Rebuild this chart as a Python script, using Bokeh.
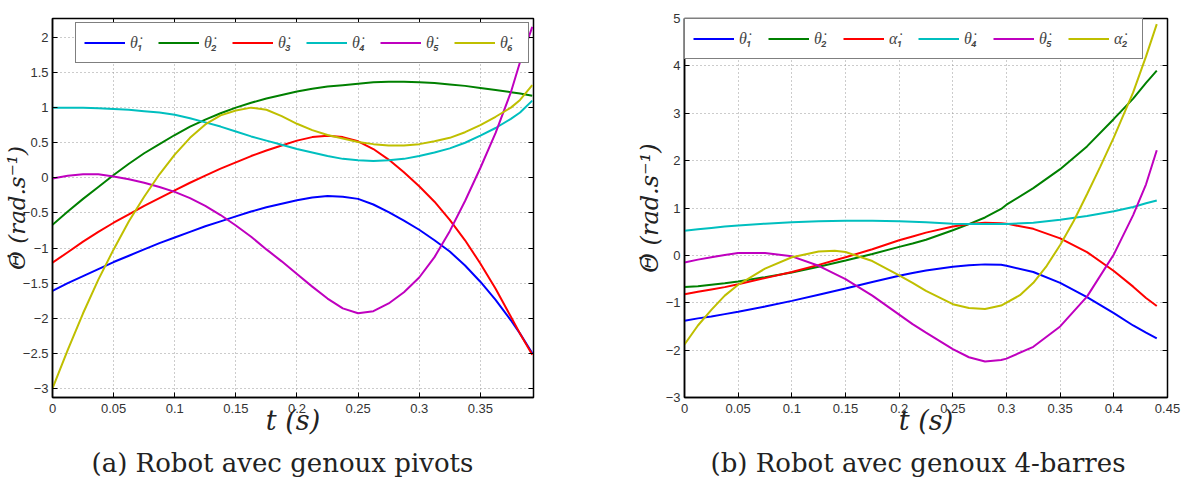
from bokeh.plotting import figure
from bokeh.models import (Range1d, FixedTicker, CustomJSTickFormatter, Legend,
                          LegendItem, LinearAxis, Title)
from bokeh.layouts import row
from bokeh.embed import file_html
from bokeh.resources import INLINE

# ---------------- data : panel (a) ----------------
ta = [0, 0.0125, 0.025, 0.0375, 0.05, 0.0625, 0.075, 0.0875, 0.1, 0.1125, 0.125,
      0.1375, 0.15, 0.1625, 0.175, 0.1875, 0.2, 0.2125, 0.225, 0.2375, 0.25, 0.2625,
      0.275, 0.2875, 0.3, 0.3125, 0.325, 0.3375, 0.35, 0.3625, 0.375, 0.3825, 0.3925]
a_theta1 = [-1.61, -1.50, -1.40, -1.30, -1.20, -1.11, -1.02, -0.93, -0.85, -0.77, -0.69,
            -0.62, -0.55, -0.48, -0.42, -0.37, -0.32, -0.28, -0.26, -0.27, -0.30, -0.38,
            -0.49, -0.61, -0.74, -0.89, -1.05, -1.25, -1.48, -1.74, -2.03, -2.22, -2.50]
a_theta2 = [-0.67, -0.48, -0.30, -0.13, 0.04, 0.20, 0.35, 0.48, 0.61, 0.73, 0.83,
            0.92, 1.00, 1.07, 1.13, 1.18, 1.23, 1.27, 1.30, 1.32, 1.34, 1.36,
            1.37, 1.37, 1.36, 1.35, 1.33, 1.31, 1.28, 1.25, 1.22, 1.20, 1.17]
a_theta3 = [-1.21, -1.06, -0.91, -0.77, -0.64, -0.52, -0.40, -0.29, -0.18, -0.07, 0.03,
            0.13, 0.22, 0.31, 0.39, 0.46, 0.53, 0.58, 0.60, 0.58, 0.52, 0.41,
            0.26, 0.08, -0.12, -0.34, -0.60, -0.89, -1.22, -1.58, -1.98, -2.22, -2.52]
a_theta4 = [1.00, 1.00, 1.00, 0.99, 0.98, 0.97, 0.95, 0.93, 0.90, 0.85, 0.79,
            0.73, 0.66, 0.59, 0.53, 0.47, 0.41, 0.36, 0.31, 0.27, 0.25, 0.24,
            0.25, 0.27, 0.31, 0.36, 0.42, 0.50, 0.60, 0.71, 0.84, 0.93, 1.10]
a_theta5 = [-0.01, 0.03, 0.05, 0.05, 0.02, -0.02, -0.07, -0.13, -0.20, -0.29, -0.40,
            -0.53, -0.68, -0.84, -1.02, -1.19, -1.37, -1.55, -1.72, -1.86, -1.93, -1.90,
            -1.79, -1.63, -1.42, -1.13, -0.76, -0.33, 0.14, 0.64, 1.22, 1.65, 2.15]
a_theta6 = [-3.00, -2.45, -1.93, -1.45, -1.02, -0.62, -0.27, 0.05, 0.33, 0.57, 0.76,
            0.89, 0.96, 1.00, 0.97, 0.88, 0.77, 0.68, 0.61, 0.56, 0.51, 0.48,
            0.46, 0.46, 0.48, 0.52, 0.57, 0.65, 0.75, 0.87, 1.00, 1.11, 1.32]
a_labels = ["\u03b8\u0307\u2081", "\u03b8\u0307\u2082", "\u03b8\u0307\u2083",
            "\u03b8\u0307\u2084", "\u03b8\u0307\u2085", "\u03b8\u0307\u2086"]
a_xticks = [0, 0.05, 0.1, 0.15, 0.2, 0.25, 0.3, 0.35]
a_yticks = [-3, -2.5, -2, -1.5, -1, -0.5, 0, 0.5, 1, 1.5, 2]

# ---------------- data : panel (b) ----------------
tb = [0, 0.0125, 0.025, 0.0375, 0.05, 0.075, 0.1, 0.125, 0.15, 0.175, 0.2, 0.2125,
      0.225, 0.25, 0.265, 0.28, 0.295, 0.3, 0.325, 0.35, 0.375, 0.4, 0.418, 0.43, 0.44]
b_theta1 = [-1.38, -1.33, -1.29, -1.24, -1.19, -1.08, -0.96, -0.83, -0.70, -0.56, -0.43, -0.37,
            -0.32, -0.24, -0.21, -0.19, -0.20, -0.22, -0.35, -0.58, -0.88, -1.22, -1.48, -1.63, -1.75]
b_theta2 = [-0.67, -0.65, -0.62, -0.59, -0.55, -0.46, -0.36, -0.24, -0.11, 0.03, 0.18, 0.25,
            0.33, 0.53, 0.66, 0.80, 0.98, 1.07, 1.42, 1.82, 2.30, 2.88, 3.31, 3.64, 3.90]
b_alpha1 = [-0.82, -0.77, -0.72, -0.67, -0.61, -0.48, -0.35, -0.20, -0.04, 0.13, 0.32, 0.40,
            0.48, 0.61, 0.66, 0.69, 0.68, 0.67, 0.56, 0.36, 0.07, -0.33, -0.66, -0.90, -1.07]
b_theta4 = [0.52, 0.55, 0.58, 0.61, 0.63, 0.67, 0.70, 0.72, 0.73, 0.73, 0.72, 0.71,
            0.70, 0.67, 0.66, 0.66, 0.66, 0.66, 0.69, 0.75, 0.83, 0.93, 1.02, 1.10, 1.16]
b_theta5 = [-0.15, -0.09, -0.04, 0.01, 0.05, 0.05, -0.02, -0.22, -0.50, -0.85, -1.25, -1.45,
            -1.63, -1.98, -2.15, -2.24, -2.21, -2.18, -1.93, -1.50, -0.87, 0.02, 0.85, 1.50, 2.22]
tb_a2 = [0, 0.0125, 0.025, 0.0375, 0.05, 0.075, 0.1, 0.125, 0.14, 0.15, 0.175, 0.2, 0.2125,
         0.225, 0.25, 0.265, 0.28, 0.295, 0.3125, 0.325, 0.3375, 0.35, 0.3625, 0.375,
         0.3875, 0.4, 0.418, 0.43, 0.44]
b_alpha2 = [-1.88, -1.48, -1.15, -0.85, -0.62, -0.28, -0.04, 0.08, 0.10, 0.07, -0.12, -0.42, -0.58,
            -0.75, -1.03, -1.11, -1.13, -1.06, -0.84, -0.58, -0.22, 0.22, 0.72, 1.29,
            1.88, 2.49, 3.44, 4.20, 4.88]
b_labels = ["\u03b8\u0307\u2081", "\u03b8\u0307\u2082", "\u03b1\u0307\u2081",
            "\u03b8\u0307\u2084", "\u03b8\u0307\u2085", "\u03b1\u0307\u2082"]
b_xticks = [0, 0.05, 0.1, 0.15, 0.2, 0.25, 0.3, 0.35, 0.4, 0.45]
b_yticks = [-3, -2, -1, 0, 1, 2, 3, 4, 5]

COLORS = ["#0000ff", "#008000", "#ff0000", "#00bfbf", "#bf00bf", "#bfbf00"]
YLABEL = "\u0398\u0307 (rad.s\u207b\u00b9)"
XLABEL = "t (s)"
CAP_A = "(a) Robot avec genoux pivots"
CAP_B = "(b) Robot avec genoux 4-barres"

FMT = "return tick < 0 ? '\\u2212' + String(Math.abs(tick)) : String(tick);"
H = 485


def make_fig(width, bl, br, xr, yr, xticks, yticks, ylab_size, ylab_standoff,
             caption, cap_offset):
    p = figure(width=width, height=H, x_range=Range1d(*xr), y_range=Range1d(*yr),
               output_backend="svg", toolbar_location=None,
               min_border_left=bl, min_border_right=br,
               min_border_top=18, min_border_bottom=H - 18 - 380)
    p.outline_line_color = "black"
    p.outline_line_width = 1.5
    p.background_fill_color = "white"
    p.border_fill_color = "white"
    xb = p.below[0]
    yl = p.left[0]
    for ax, tk in ((xb, xticks), (yl, yticks)):
        ax.ticker = FixedTicker(ticks=tk)
        ax.formatter = CustomJSTickFormatter(code=FMT)
        ax.major_tick_in = 5
        ax.major_tick_out = 0
        ax.minor_tick_line_color = None
        ax.axis_line_color = "black"
        ax.axis_line_width = 1.5
        ax.major_tick_line_color = "black"
        ax.major_label_text_font = "Liberation Sans"
        ax.major_label_text_font_size = "13px"
        ax.major_label_text_color = "#333333"
    yl.major_label_standoff = 4
    xb.major_label_standoff = 6
    xb.axis_label = XLABEL
    xb.axis_label_text_font = "DejaVu Serif"
    xb.axis_label_text_font_style = "italic"
    xb.axis_label_text_font_size = "27px"
    xb.axis_label_text_color = "#222222"
    xb.axis_label_standoff = -11
    yl.axis_label = YLABEL
    yl.axis_label_text_font = "DejaVu Serif"
    yl.axis_label_text_font_style = "italic"
    yl.axis_label_text_font_size = ylab_size
    yl.axis_label_text_color = "#222222"
    yl.axis_label_standoff = ylab_standoff
    for place, tk in (("right", yticks), ("above", xticks)):
        ax2 = LinearAxis(ticker=FixedTicker(ticks=tk), major_tick_in=5, major_tick_out=0,
                         minor_tick_line_color=None, major_label_text_font_size="1px",
                         major_label_text_color=None, major_label_standoff=0,
                         axis_line_color="black", major_tick_line_color="black")
        p.add_layout(ax2, place)
    p.xgrid.ticker = FixedTicker(ticks=xticks)
    p.ygrid.ticker = FixedTicker(ticks=yticks)
    p.grid.grid_line_dash = "1 3"
    p.grid.grid_line_color = "#999999"
    p.grid.grid_line_width = 1
    cap = Title(text=caption, align="left", offset=cap_offset, standoff=15,
                text_font="DejaVu Serif", text_font_style="normal",
                text_font_size="26px", text_color="#222222")
    p.add_layout(cap, "below")
    return p


def add_series(p, ts, series, labels, location, margin, spacing):
    items = []
    for t, y, c, lab in zip(ts, series, COLORS, labels):
        r = p.line(t, y, line_color=c, line_width=2)
        items.append(LegendItem(label=lab, renderers=[r]))
    lg = Legend(items=items, orientation="horizontal", location=location, margin=margin,
                padding=8, spacing=spacing, glyph_width=41, glyph_height=23, label_width=20,
                label_height=23, label_standoff=5, label_text_font="Roboto",
                label_text_font_style="italic", label_text_font_size="16px",
                border_line_color="black", border_line_width=1.5,
                background_fill_color="white", background_fill_alpha=1.0)
    p.add_layout(lg)


p1 = make_fig(608, 52, 75, (0, 0.3935), (-3.13, 2.27), a_xticks, a_yticks,
              "23px", -10, CAP_A, 39)
add_series(p1, [ta] * 6, [a_theta1, a_theta2, a_theta3, a_theta4, a_theta5, a_theta6],
           a_labels, "top_right", 4, 8)

p2 = make_fig(581, 76, 22, (0, 0.45), (-3, 5), b_xticks, b_yticks,
              "24px", -1, CAP_B, 26)
add_series(p2, [tb, tb, tb, tb, tb, tb_a2],
           [b_theta1, b_theta2, b_alpha1, b_theta4, b_theta5, b_alpha2],
           b_labels, "top_left", 0, 9)

layout = row(p1, p2)
open("out.html", "w").write(file_html(layout, INLINE))
